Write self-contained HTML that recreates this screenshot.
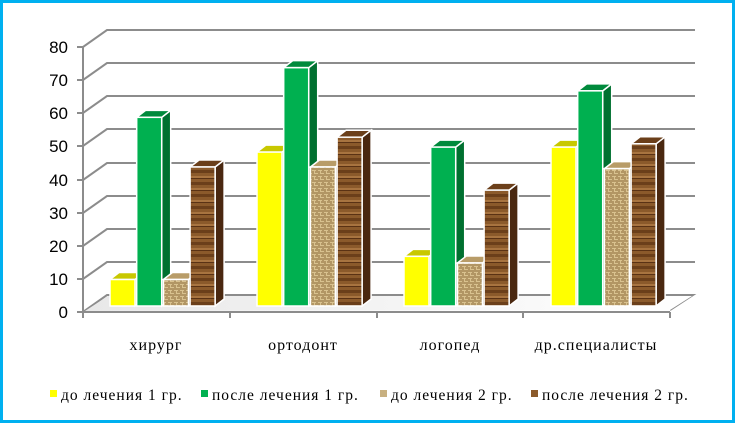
<!DOCTYPE html>
<html><head><meta charset="utf-8"><style>
body{margin:0;background:#fff}
svg{display:block}
.ax{font-family:"Liberation Sans",sans-serif;font-size:17px;fill:#000}
.cat{font-family:"Liberation Serif",serif;font-size:16px;letter-spacing:1px;fill:#000}
.lg{font-family:"Liberation Serif",serif;font-size:15.5px;letter-spacing:1px;fill:#000}
</style></head><body>
<svg width="736" height="424" viewBox="0 0 736 424" xmlns="http://www.w3.org/2000/svg">
<defs>
<pattern id="tan" width="6" height="6" patternUnits="userSpaceOnUse">
<rect width="6" height="6" fill="#d9c28f"/><path d="M0 1h4M3 4h3M1 3v3M5 0v3" stroke="#8a6b3a" stroke-width="1"/>
</pattern>
<pattern id="wood" width="26" height="12" patternUnits="userSpaceOnUse">
<rect width="26" height="12" fill="#8b5a2b"/><rect y="2" width="26" height="3" fill="#6b3f1a"/><rect y="8" width="26" height="2" fill="#a87440"/><rect y="10" width="26" height="1" fill="#5a3214"/>
</pattern>
<linearGradient id="fl" x1="0" x2="1"><stop offset="0" stop-color="#e8e8e8"/><stop offset="1" stop-color="#fff"/></linearGradient>
</defs>
<rect x="1.5" y="1.5" width="732" height="420" fill="#fff" stroke="#00b0f0" stroke-width="3"/>
<g stroke="#8c8c8c" stroke-width="2" fill="none">
<path d="M77 47h6l24 -17h588"/>
<path d="M77 80h6l24 -17h588"/>
<path d="M77 113h6l24 -17h588"/>
<path d="M77 146h6l24 -17h588"/>
<path d="M77 180h6l24 -17h588"/>
<path d="M77 213h6l24 -17h588"/>
<path d="M77 246h6l24 -17h588"/>
<path d="M77 279h6l24 -17h588"/>
<path d="M83 47v265"/>
<path d="M83 312l24 -17h586l-23 15"/>
<path d="M77 312h593M83 312v6M230 312v6M377 312v6M523 312v6M670 312v6"/>
</g>
<path d="M85 311l23 -15h584l-22 14z" fill="url(#fl)"/>
<g class="ax" text-anchor="end">
<text x="68" y="53">80</text><text x="68" y="86">70</text><text x="68" y="119">60</text><text x="68" y="152">50</text><text x="68" y="186">40</text><text x="68" y="219">30</text><text x="68" y="252">20</text><text x="68" y="285">10</text><text x="68" y="318">0</text>
</g>
<g id="bars" stroke="#fff" stroke-width="1.5"></g>
<g class="cat" text-anchor="middle">
<text x="156" y="350">хирург</text><text x="303" y="350">ортодонт</text><text x="450" y="350">логопед</text><text x="596" y="350">др.специалисты</text>
</g>
<g class="lg">
<rect x="50" y="390" width="7" height="7" fill="#ffff00"/><text x="61" y="400">до лечения 1 гр.</text>
<rect x="201" y="390" width="7" height="7" fill="#00b050"/><text x="212" y="400">после лечения 1 гр.</text>
<rect x="380" y="390" width="7" height="7" fill="#c8b080"/><text x="391" y="400">до лечения 2 гр.</text>
<rect x="531" y="390" width="7" height="7" fill="#8b5a2b"/><text x="542" y="400">после лечения 2 гр.</text>
</g>
</svg>
<script>
var d=[[8,57,8,42],[46.5,72,42,51],[15,48,13,35],[48,65,41.5,49]];
var f=["#ffff00","#00b050","url(#tan)","url(#wood)"],t=["#c8c800","#008a3c","#b89c68","#6b3f1a"],s=["#a8a800","#007030","#9a7d4c","#4a2810"];
var g=document.getElementById('bars'),h='';
for(var i=0;i<4;i++)for(var j=0;j<4;j++){var x=110+147*i+26.7*j,w=25,y=306-3.31*d[i][j],b=306,dx=9,dy=7;
h+='<path d="M'+(x+w)+' '+y+'l'+dx+' '+(-dy)+'V'+(b-dy)+'l'+(-dx)+' '+dy+'z" fill="'+s[j]+'"/>';
h+='<path d="M'+x+' '+y+'l'+dx+' '+(-dy)+'h'+w+'l'+(-dx)+' '+dy+'z" fill="'+t[j]+'"/>';
h+='<rect x="'+x+'" y="'+y+'" width="'+w+'" height="'+(b-y)+'" fill="'+f[j]+'"/>';}
g.innerHTML=h;
</script>
</body></html>
